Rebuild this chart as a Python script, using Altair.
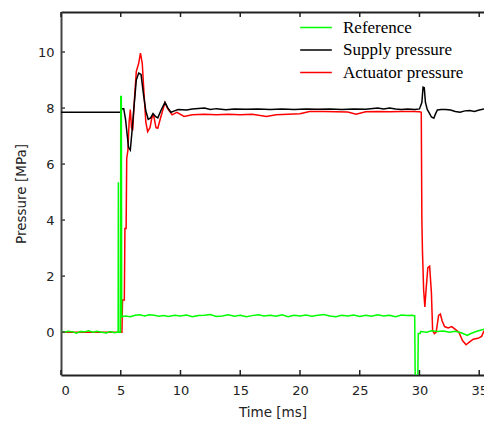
import altair as alt
import pandas as pd

# ---------------- data ----------------
series_names = ["Reference", "Supply pressure", "Actuator pressure"]
series_colors = ["#00ff00", "#000000", "#ff0000"]

ref_t = [0, 0.3, 0.6, 1.0, 1.3, 1.6, 2.0, 2.3, 2.7, 3.0, 3.4, 3.8, 4.1, 4.5, 4.78, 4.8, 4.82,
         4.98, 5.0, 5.05, 5.08, 5.4, 5.8, 6.2, 6.6, 7.0, 7.4, 7.8, 8.2, 8.6, 9.0, 9.5, 10.0,
         10.5, 11.0, 11.5, 12.0, 12.5, 13.0, 13.5, 14.0, 14.5, 15.0, 15.5, 16.0, 16.5, 17.0,
         17.5, 18.0, 18.5, 19.0, 19.5, 20.0, 20.5, 21.0, 21.5, 22.0, 22.5, 23.0, 23.5, 24.0,
         24.5, 25.0, 25.5, 26.0, 26.5, 27.0, 27.5, 28.0, 28.5, 29.0, 29.4, 29.6, 29.65, 29.85,
         29.9, 30.05, 30.1, 30.6, 31.0, 31.5, 32.0, 32.5, 33.0, 33.5, 34.0, 34.3, 34.8, 35.4]
ref_p = [0.02, 0.0, 0.03, 0.01, -0.04, 0.02, 0.01, 0.05, 0.0, 0.03, 0.0, -0.03, 0.02, -0.02, 0.01, 5.35, 0.0,
         0.0, 8.41, 8.41, 0.55, 0.58, 0.55, 0.6, 0.62, 0.58, 0.62, 0.6, 0.57, 0.59, 0.56, 0.6, 0.58,
         0.61, 0.55, 0.59, 0.6, 0.63, 0.56, 0.58, 0.62, 0.57, 0.6, 0.55, 0.59, 0.62, 0.58,
         0.6, 0.57, 0.62, 0.55, 0.6, 0.58, 0.61, 0.57, 0.6, 0.63, 0.58, 0.55, 0.6, 0.58,
         0.61, 0.56, 0.6, 0.57, 0.62, 0.58, 0.6, 0.55, 0.61, 0.59, 0.6, 0.58, -2.0, -2.0,
         -0.05, -0.05, 0.02, 0.0, 0.05, 0.02, 0.04, 0.0, 0.03, -0.02, -0.12, -0.05, 0.03, 0.1]

sup_t = [0, 5.0, 5.1, 5.25, 5.4, 5.5, 5.65, 5.8, 5.95, 6.1, 6.3, 6.5, 6.7, 6.9, 7.1, 7.3, 7.5,
         7.7, 7.9, 8.1, 8.4, 8.7, 8.95, 9.2, 9.5, 9.8, 10.5, 11.0, 12.0, 12.5, 13.0, 13.8, 14.5,
         15.5, 16.5, 17.5, 18.5, 19.5, 20.5, 21.5, 22.5, 23.5, 24.5, 25.5, 26.5, 27.0, 27.5,
         28.0, 28.5, 29.0, 29.6, 30.0, 30.2, 30.3, 30.4, 30.5, 30.65, 30.85, 31.0, 31.2, 31.35,
         31.5, 31.8, 32.2, 32.6, 33.0, 33.4, 33.8, 34.2, 34.6, 35.0, 35.4]
sup_p = [7.85, 7.85, 7.98, 7.98, 7.6, 7.2, 6.6, 6.5, 7.2, 8.0, 9.0, 9.25, 9.2, 8.5, 7.9, 7.6, 7.65,
         7.8, 7.7, 7.65, 7.95, 8.2, 8.0, 7.85, 7.9, 7.95, 7.93, 7.97, 8.0, 7.95, 7.98, 7.94, 7.97,
         7.96, 7.97, 7.95, 7.97, 7.95, 7.97, 7.96, 7.97, 7.95, 7.97, 7.96, 8.0, 7.97, 8.0,
         7.97, 7.95, 7.97, 7.95, 7.97, 8.2, 8.75, 8.73, 8.2, 7.95, 7.8, 7.68, 7.64, 7.8,
         7.93, 7.95, 7.95, 7.93, 7.88, 7.85, 7.9, 7.91, 7.88, 7.93, 7.97]

act_t = [0, 5.1, 5.15, 5.3, 5.35, 5.45, 5.5, 5.6, 5.7, 5.8, 5.9, 6.0, 6.1, 6.3, 6.5, 6.65, 6.8,
         6.95, 7.1, 7.25, 7.45, 7.6, 7.75, 7.95, 8.1, 8.3, 8.7, 8.9, 9.3, 9.7, 10.3, 11.0, 12.0,
         13.0, 14.0, 15.0, 16.0, 17.2, 18.0, 19.0, 20.0, 20.8, 22.0, 23.0, 24.0, 24.7, 25.5,
         26.5, 27.5, 28.5, 29.5, 30.0, 30.15, 30.2, 30.25, 30.35, 30.45, 30.55, 30.7, 30.85,
         31.0, 31.1, 31.25, 31.4, 31.6, 31.75, 31.9, 32.1, 32.4, 32.7, 33.0, 33.3, 33.6, 33.9,
         34.2, 34.5, 34.9, 35.2, 35.4]
act_p = [0.0, 0.0, 1.15, 1.15, 3.7, 3.7, 6.2, 6.5, 7.5, 7.95, 7.3, 7.2, 8.0, 9.3, 9.6, 9.96, 9.6,
         8.5, 7.5, 7.16, 7.3, 7.65, 7.75, 7.3, 7.28, 7.6, 8.2, 8.0, 7.76, 7.85, 7.7, 7.76, 7.78,
         7.76, 7.78, 7.76, 7.78, 7.7, 7.76, 7.78, 7.8, 7.88, 7.88, 7.87, 7.86, 7.78, 7.87,
         7.88, 7.87, 7.88, 7.88, 7.87, 7.85, 4.0, 2.9, 1.5, 0.9, 1.5, 2.3, 2.35,
         1.4, 0.05, -0.05, 0.0, 0.6, 0.65, 0.4, 0.2, 0.15, 0.2, 0.1, 0.0, -0.3, -0.45,
         -0.35, -0.25, -0.22, -0.15, 0.05]

x_ticks = [0, 5, 10, 15, 20, 25, 30, 35]
y_ticks = [0, 2, 4, 6, 8, 10]

# ---------------- chart ----------------
frames = []
for name, t, p in [(series_names[0], ref_t, ref_p),
                   (series_names[1], sup_t, sup_p),
                   (series_names[2], act_t, act_p)]:
    frames.append(pd.DataFrame({"t": t, "p": p, "series": name, "idx": range(len(t))}))
df = pd.concat(frames, ignore_index=True)

W, H = 423, 363
xscale = alt.Scale(domain=[0, 35.4], nice=False, zero=False)
yscale = alt.Scale(domain=[-1.53, 11.43], nice=False, zero=False)
color = alt.Color("series:N",
                  scale=alt.Scale(domain=series_names, range=series_colors),
                  legend=alt.Legend(title=None, orient="none", legendX=238, legendY=7,
                                    symbolType="stroke", symbolSize=1000, symbolStrokeWidth=1.5,
                                    labelFont="Liberation Serif", labelFontSize=17,
                                    labelColor="#000", labelOffset=10, rowPadding=4.5,
                                    clipHeight=17, padding=0))

FONT = "DejaVu Sans"
x_axis = alt.Axis(title="Time [ms]", values=x_ticks, ticks=False, grid=False,
                  domainColor="#222", domainWidth=2, labelPadding=9, titlePadding=8,
                  labelFont=FONT, labelFontSize=13, labelColor="#222",
                  titleFont=FONT, titleFontSize=13.5, titleFontWeight="normal", titleColor="#222")
y_axis = alt.Axis(title="Pressure [MPa]", values=y_ticks, ticks=False, grid=False,
                  domainColor="#444", domainWidth=2, labelPadding=7, titlePadding=9,
                  labelFont=FONT, labelFontSize=13, labelColor="#222",
                  titleFont=FONT, titleFontSize=13.5, titleFontWeight="normal", titleColor="#222")

base = alt.Chart(df)

def line(name, with_x_axis):
    return base.transform_filter(alt.datum.series == name).mark_line(
        strokeWidth=1.5, clip=True).encode(
        x=alt.X("t:Q", scale=xscale, axis=x_axis if with_x_axis else None),
        y=alt.Y("p:Q", scale=yscale, axis=y_axis),
        color=color,
        order="idx:Q",
    )

layers = [line(series_names[2], True), line(series_names[1], False), line(series_names[0], False)]

xt = pd.DataFrame({"v": x_ticks})
yt = pd.DataFrame({"v": y_ticks})

top_axis = alt.Chart(xt).mark_rule(strokeWidth=1.5, color="#222").encode(
    x=alt.X("v:Q", scale=xscale,
            axis=alt.Axis(orient="top", labels=False, ticks=False, title=None, grid=False,
                          domainColor="#222", domainWidth=2)),
    y=alt.value(0), y2=alt.value(5))
bot_ticks = alt.Chart(xt).mark_rule(strokeWidth=1.5, color="#222").encode(
    x=alt.X("v:Q", scale=xscale, axis=None), y=alt.value(H - 5), y2=alt.value(H))
left_ticks = alt.Chart(yt).mark_rule(strokeWidth=1.5, color="#444").encode(
    y=alt.Y("v:Q", scale=yscale, axis=y_axis), x=alt.value(0), x2=alt.value(4))

chart = alt.layer(*layers, bot_ticks, left_ticks, top_axis).resolve_axis(
    x="independent").properties(
    width=W, height=H,
    autosize=alt.AutoSizeParams(type="none"),
    padding={"left": 61, "top": 12, "right": 0, "bottom": 46},
).configure_view(stroke=None).configure(background="white")

chart.save("out.html", embed_options={"renderer": "svg", "actions": False})
